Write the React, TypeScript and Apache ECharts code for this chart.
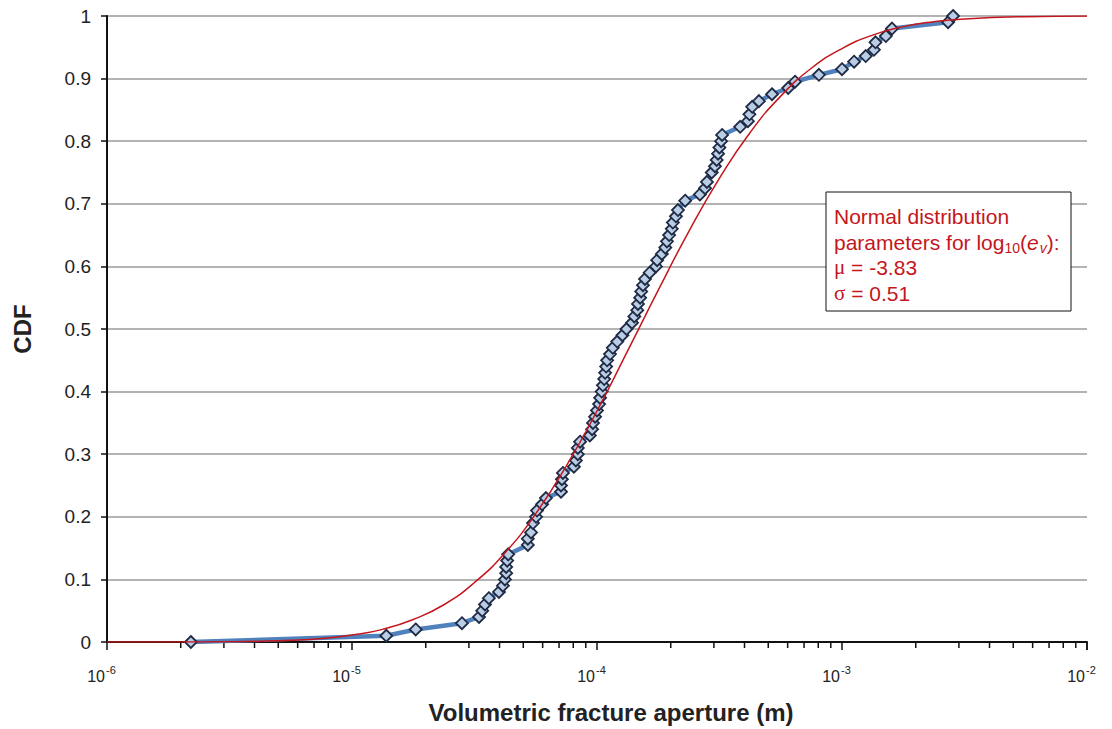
import React, { useEffect, useRef } from "react";
import * as echarts from "echarts";

// Empirical CDF of volumetric fracture aperture (m)
const APERTURE = [
  2.2e-6, 1.38e-5, 1.82e-5, 2.81e-5, 3.3e-5, 3.4e-5, 3.49e-5, 3.62e-5, 3.98e-5, 4.13e-5,
  4.21e-5, 4.26e-5, 4.26e-5, 4.3e-5, 4.34e-5, 5.22e-5, 5.22e-5, 5.38e-5, 5.48e-5, 5.64e-5,
  5.69e-5, 5.97e-5, 6.19e-5, 7.13e-5, 7.13e-5, 7.19e-5, 7.26e-5, 8.05e-5, 8.2e-5, 8.35e-5,
  8.35e-5, 8.53e-5, 9.35e-5, 9.55e-5, 9.63e-5, 9.82e-5, 1.0e-4, 1.02e-4, 1.03e-4, 1.045e-4,
  1.057e-4, 1.07e-4, 1.079e-4, 1.09e-4, 1.1e-4, 1.13e-4, 1.16e-4, 1.21e-4, 1.27e-4, 1.32e-4,
  1.39e-4, 1.42e-4, 1.46e-4, 1.47e-4, 1.5e-4, 1.515e-4, 1.54e-4, 1.57e-4, 1.64e-4, 1.74e-4,
  1.76e-4, 1.84e-4, 1.9e-4, 1.93e-4, 1.97e-4, 2.02e-4, 2.04e-4, 2.1e-4, 2.14e-4, 2.29e-4,
  2.63e-4, 2.76e-4, 2.81e-4, 2.94e-4, 3.03e-4, 3.08e-4, 3.12e-4, 3.16e-4, 3.21e-4, 3.24e-4,
  3.84e-4, 4.13e-4, 4.19e-4, 4.3e-4, 4.58e-4, 5.18e-4, 6.03e-4, 6.43e-4, 8.05e-4, 1.0e-3,
  1.12e-3, 1.25e-3, 1.35e-3, 1.37e-3, 1.51e-3, 1.6e-3, 2.71e-3, 2.84e-3,
];
const CDF = [
  0, 0.01, 0.02, 0.03, 0.04, 0.05, 0.06, 0.07, 0.08, 0.09,
  0.1, 0.11, 0.12, 0.13, 0.14, 0.155, 0.165, 0.175, 0.19, 0.2,
  0.21, 0.22, 0.23, 0.24, 0.25, 0.26, 0.27, 0.28, 0.29, 0.3,
  0.31, 0.32, 0.33, 0.34, 0.35, 0.36, 0.37, 0.38, 0.39, 0.4,
  0.41, 0.42, 0.43, 0.44, 0.45, 0.46, 0.47, 0.48, 0.49, 0.5,
  0.51, 0.52, 0.53, 0.54, 0.55, 0.56, 0.57, 0.58, 0.59, 0.6,
  0.61, 0.62, 0.63, 0.64, 0.65, 0.66, 0.67, 0.68, 0.69, 0.705,
  0.715, 0.725, 0.735, 0.75, 0.76, 0.77, 0.78, 0.79, 0.8, 0.81,
  0.823, 0.832, 0.843, 0.855, 0.864, 0.875, 0.885, 0.895, 0.906, 0.915,
  0.927, 0.936, 0.946, 0.958, 0.968, 0.98, 0.99, 1.0,
];

// Fitted normal CDF curve (read at log10 aperture positions)
const FIT_LOG10_X = [
  -6, -5.75, -5.5, -5.375, -5.25, -5.125, -5, -4.875, -4.75, -4.625, -4.5, -4.375,
  -4.25, -4.125, -4, -3.875, -3.75, -3.625, -3.5, -3.375, -3.25, -3.125, -3, -2.875,
  -2.75, -2.625, -2.5, -2.25, -2,
];
const FIT_CDF = [
  0.00001, 0.00008, 0.0005, 0.0012, 0.0027, 0.0056, 0.011, 0.0202, 0.036, 0.0595, 0.095, 0.1426,
  0.205, 0.2815, 0.369, 0.465, 0.562, 0.656, 0.741, 0.814, 0.872, 0.9165, 0.948, 0.9695,
  0.983, 0.9909, 0.9954, 0.999, 1.0,
];

const X_MIN = 1e-6;
const X_MAX = 1e-2;
const MAJOR_TICKS = [1e-6, 1e-5, 1e-4, 1e-3, 1e-2];
const TICK_EXPONENTS = ["-6", "-5", "-4", "-3", "-2"];
const DECADES = [1e-6, 1e-5, 1e-4, 1e-3];
const MINOR_MANTISSAS = [2, 3, 4, 5, 6, 7, 8, 9];

const AXIS_NAME_X = "Volumetric fracture aperture (m)";
const AXIS_NAME_Y = "CDF";
const NOTE_LINE_1 = "Normal distribution";
const NOTE_LINE_2 = ["parameters for log", "10", "(", "e", "v", "):"];
const NOTE_LINE_3 = ["μ", " = -3.83"];
const NOTE_LINE_4 = ["σ", " = 0.51"];

const FONT = "Arial, 'Liberation Sans', sans-serif";
const SERIF = "'Liberation Serif', 'DejaVu Serif', serif";
const RED = "#c4161c";

type FontSpec = { size: number; family: string; style?: string };

function measure(text: string, f: FontSpec): number {
  const c = document.createElement("canvas").getContext("2d");
  if (!c) return text.length * f.size * 0.55;
  c.font = `${f.style || "normal"} ${f.size}px ${f.family}`;
  return c.measureText(text).width;
}

function textStyle(text: string, f: FontSpec, fill: string, align: string) {
  return {
    text,
    fontSize: f.size,
    fontFamily: f.family,
    fontStyle: f.style || "normal",
    fill,
    textAlign: align,
    align,
    verticalAlign: "middle",
    textVerticalAlign: "middle",
  };
}

export default function App() {
  const ref = useRef<HTMLDivElement>(null);

  useEffect(() => {
    if (!ref.current) return;
    const chart = echarts.init(ref.current, undefined, { renderer: "svg" });

    const empirical = APERTURE.map((x, i) => [x, CDF[i]]);
    const fit = FIT_LOG10_X.map((lx, i) => [Math.pow(10, lx), FIT_CDF[i]]);
    const minorTicks: number[][] = [];
    DECADES.forEach((d) => MINOR_MANTISSAS.forEach((m) => minorTicks.push([m * d, 0])));
    const majorLabels = MAJOR_TICKS.map((v, i) => [v, 0, i]);

    // note box text pieces
    const fN: FontSpec = { size: 21, family: FONT };
    const fS: FontSpec = { size: 14, family: FONT };
    const fI: FontSpec = { size: 21, family: FONT, style: "italic" };
    const fIS: FontSpec = { size: 14, family: FONT, style: "italic" };
    const fG: FontSpec = { size: 21, family: SERIF };
    const BX = 826;
    const BY = 192;
    const TX = BX + 8;
    const L = [216, 242, 267, 293];
    const textEl = (text: string, x: number, y: number, f: FontSpec) => ({
      type: "text",
      x,
      y,
      z: 101,
      style: textStyle(text, f, RED, "left"),
    });
    const noteEls: any[] = [];
    noteEls.push(textEl(NOTE_LINE_1, TX, L[0], fN));
    {
      const fonts = [fN, fS, fN, fI, fIS, fN];
      const dy = [0, 6, 0, 0, 6, 0];
      let x = TX;
      NOTE_LINE_2.forEach((s, i) => {
        noteEls.push(textEl(s, x, L[1] + dy[i], fonts[i]));
        x += measure(s, fonts[i]) + (i === 3 ? 1 : 0);
      });
    }
    [NOTE_LINE_3, NOTE_LINE_4].forEach((parts, k) => {
      const y = L[2 + k];
      noteEls.push(textEl(parts[0], TX, y, fG));
      noteEls.push(textEl(parts[1], TX + measure(parts[0], fG), y, fN));
    });

    const fTick: FontSpec = { size: 16, family: FONT };
    const fSup: FontSpec = { size: 11, family: FONT };

    const option: any = {
      animation: false,
      backgroundColor: "#fff",
      grid: { left: 107, right: 25, top: 16, bottom: 87, containLabel: false },
      xAxis: {
        type: "log",
        logBase: 10,
        min: X_MIN,
        max: X_MAX,
        name: AXIS_NAME_X,
        nameLocation: "middle",
        nameGap: 58,
        nameTextStyle: {
          fontFamily: FONT,
          fontSize: 24,
          fontWeight: "bold",
          color: "#222",
          padding: [0, 0, 0, 28],
        },
        axisLine: { lineStyle: { color: "#111", width: 2 } },
        axisTick: { show: true, inside: false, length: 8, lineStyle: { color: "#111", width: 1.5 } },
        splitLine: { show: false },
        minorTick: { show: false },
        axisLabel: { show: false },
      },
      yAxis: {
        type: "value",
        min: 0,
        max: 1,
        interval: 0.1,
        name: AXIS_NAME_Y,
        nameLocation: "middle",
        nameGap: 73,
        nameTextStyle: { fontFamily: FONT, fontSize: 24, fontWeight: "bold", color: "#222" },
        axisLine: { show: true, lineStyle: { color: "#111", width: 2 } },
        axisTick: { show: true, inside: false, length: 6, lineStyle: { color: "#111", width: 1.5 } },
        splitLine: { show: true, lineStyle: { color: "#9a9a9a", width: 1.5 } },
        axisLabel: {
          margin: 16,
          fontFamily: FONT,
          fontSize: 19,
          color: "#222",
          formatter: (v: number) => (v === 0 ? "0" : v === 1 ? "1" : v.toFixed(1)),
        },
      },
      series: [
        {
          type: "custom",
          silent: true,
          clip: false,
          data: minorTicks,
          renderItem: (params: any, api: any) => {
            const p = api.coord([api.value(0), 0]);
            return {
              type: "line",
              shape: { x1: p[0], y1: p[1], x2: p[0], y2: p[1] + 6 },
              style: { stroke: "#111", lineWidth: 1.5 },
            };
          },
          z: 1,
        },
        {
          type: "custom",
          silent: true,
          clip: false,
          data: majorLabels,
          renderItem: (params: any, api: any) => {
            const p = api.coord([api.value(0), 0]);
            const exp = TICK_EXPONENTS[api.value(2)];
            return {
              type: "group",
              children: [
                {
                  type: "text",
                  x: p[0] - 2,
                  y: p[1] + 34,
                  style: textStyle("10", fTick, "#222", "right"),
                },
                {
                  type: "text",
                  x: p[0] - 1,
                  y: p[1] + 28,
                  style: textStyle(exp, fSup, "#222", "left"),
                },
              ],
            };
          },
          z: 1,
        },
        {
          name: "Empirical",
          type: "line",
          data: empirical,
          symbol: "diamond",
          symbolSize: 12,
          lineStyle: { color: "#4f81bd", width: 4.5 },
          itemStyle: { color: "#b9cde5", borderColor: "#1f2a44", borderWidth: 1.8 },
          z: 2,
        },
        {
          name: "Normal fit",
          type: "line",
          data: fit,
          smooth: true,
          showSymbol: false,
          symbol: "none",
          lineStyle: { color: RED, width: 1.5 },
          z: 3,
        },
      ],
      graphic: [
        {
          type: "rect",
          x: BX,
          y: BY,
          z: 100,
          shape: { x: 0, y: 0, width: 245, height: 119 },
          style: { fill: "#fff", stroke: "#111", lineWidth: 1 },
        },
        ...noteEls,
      ],
    };

    chart.setOption(option);
    return () => chart.dispose();
  }, []);

  return (
    <div
      ref={ref}
      style={{ position: "fixed", left: 0, top: 0, width: 1112, height: 729, background: "#fff" }}
    />
  );
}
